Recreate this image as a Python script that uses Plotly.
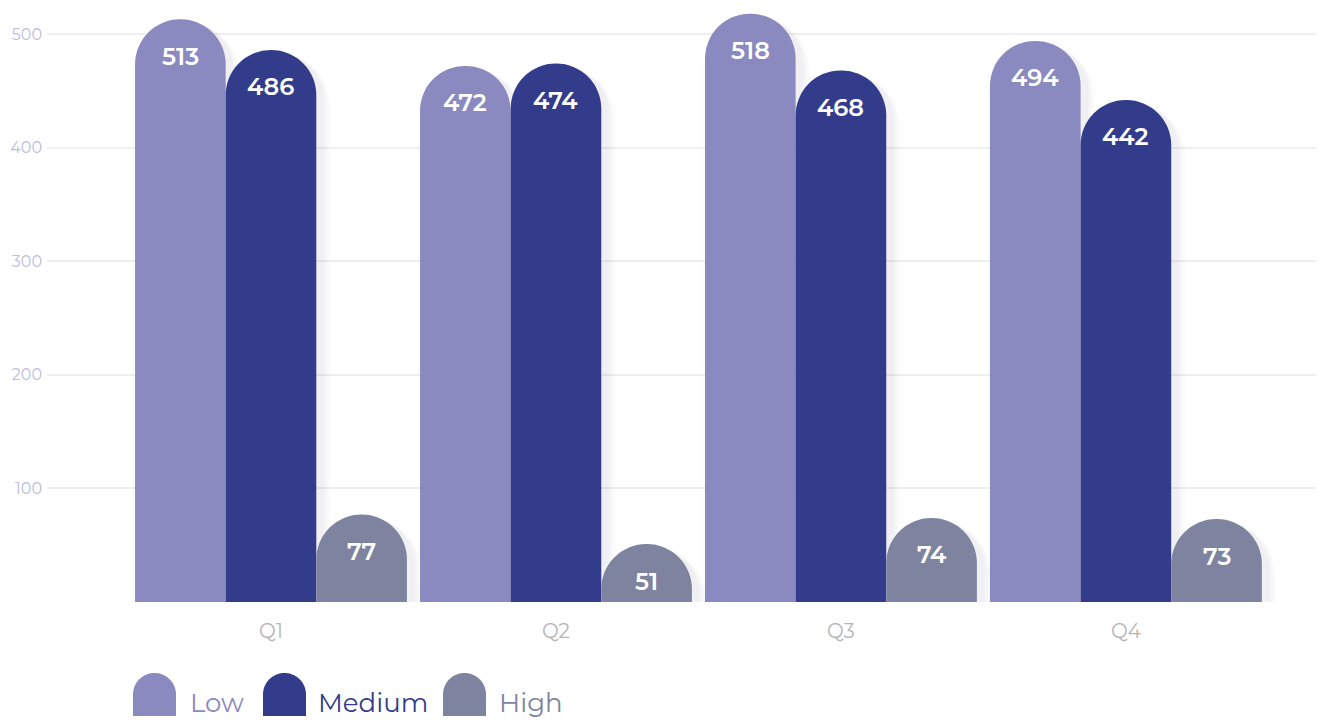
import math
import plotly.graph_objects as go

# Quarterly counts by level
quarters = ["Q1", "Q2", "Q3", "Q4"]
low = [513, 472, 518, 494]
medium = [486, 474, 468, 442]
high = [77, 51, 74, 73]
series_names = ["Low", "Medium", "High"]
series_values = [low, medium, high]
colors = ["#8b8ac0", "#323c8a", "#7e84a0"]
y_ticks = [100, 200, 300, 400, 500]

FONT = "Montserrat, Inter, 'Open Sans', sans-serif"

# Layout geometry
W, H = 1320, 720
ML, MR, MT, MB = 47, 4, 0, 118
X_RANGE = [-0.786, 3.667]
Y_RANGE = [0, 530]
GAP = 0.046
BAR_W = (1 - GAP) / 3
px_x = (W - ML - MR) / (X_RANGE[1] - X_RANGE[0])   # pixels per x unit
px_y = (H - MT - MB) / (Y_RANGE[1] - Y_RANGE[0])   # pixels per y unit

xpos = list(range(len(quarters)))
fig = go.Figure()

# Soft drop shadow: stacked translucent bars shifted to the lower right
for i, vals in enumerate(series_values):
    off = -0.5 + GAP / 2 + i * BAR_W
    for grow, alpha in [(8, 0.015), (5, 0.02), (2, 0.028)]:
        fig.add_trace(go.Bar(
            x=xpos, y=[v - 3 / px_y for v in vals],
            width=BAR_W + 2 * grow / px_x,
            offset=off - grow / px_x + 6 / px_x,
            marker=dict(color=f"rgba(20,20,60,{alpha})", line=dict(width=0),
                        cornerradius="50%"),
            hoverinfo="skip", showlegend=False,
        ))

annotations = []
for i, (name, vals, col) in enumerate(zip(series_names, series_values, colors)):
    off = -0.5 + GAP / 2 + i * BAR_W
    fig.add_trace(go.Bar(
        x=xpos, y=vals, name=name,
        width=BAR_W, offset=off,
        marker=dict(color=col, line=dict(width=0), cornerradius="50%"),
        hoverinfo="x+y", showlegend=False,
    ))
    # value label placed inside the rounded top of each bar
    for xp, v in zip(xpos, vals):
        annotations.append(dict(
            x=xp + off + BAR_W / 2, y=v, xref="x", yref="y",
            yshift=-37, xanchor="center", yanchor="middle", showarrow=False,
            text=str(v),
            font=dict(family=FONT, size=24, color="white", weight=600),
        ))

# Legend: arch-shaped swatches drawn in pixel units next to coloured labels
def arch_path(w, h):
    r = w / 2
    pts = [(0, 0), (0, h - r)]
    for k in range(1, 40):
        a = math.pi - math.pi * k / 40
        pts.append((r + r * math.cos(a), h - r + r * math.sin(a)))
    pts += [(w, h - r), (w, 0)]
    return "M" + " L".join(f"{x:.2f},{y:.2f}" for x, y in pts) + " Z"

plot_w = W - ML - MR
plot_h = H - MT - MB
legend_items = [(133, 188), (263, 316), (443, 497)]
shapes = []
for (sx, tx), name, col in zip(legend_items, series_names, colors):
    shapes.append(dict(
        type="path", xref="paper", yref="paper",
        xsizemode="pixel", ysizemode="pixel",
        xanchor=(sx - ML) / plot_w,
        yanchor=(plot_h - 716) / plot_h,
        path=arch_path(43, 43),
        fillcolor=col, line=dict(width=0),
    ))
    annotations.append(dict(
        xref="paper", yref="paper",
        x=(tx - ML) / plot_w, y=(plot_h - 703) / plot_h,
        xanchor="left", yanchor="middle", showarrow=False,
        text=name, font=dict(family=FONT, size=26, color=col),
    ))

fig.update_layout(
    width=W, height=H,
    margin=dict(l=ML, r=MR, t=MT, b=MB),
    paper_bgcolor="white", plot_bgcolor="white",
    barmode="overlay",
    shapes=shapes, annotations=annotations,
    showlegend=False,
    xaxis=dict(
        range=X_RANGE, tickvals=xpos, ticktext=quarters,
        showgrid=False, zeroline=False, showline=False,
        ticks="", tickfont=dict(family=FONT, size=20, color="#b5b5b5"),
        ticklabelstandoff=15,
    ),
    yaxis=dict(
        range=Y_RANGE, tickvals=y_ticks, showgrid=True,
        gridcolor="#efefef", gridwidth=2, zeroline=False, showline=False,
        ticks="", tickfont=dict(family=FONT, size=16, color="#bcbce0"),
        ticklabelstandoff=4,
    ),
)

fig.write_html("out.html")
